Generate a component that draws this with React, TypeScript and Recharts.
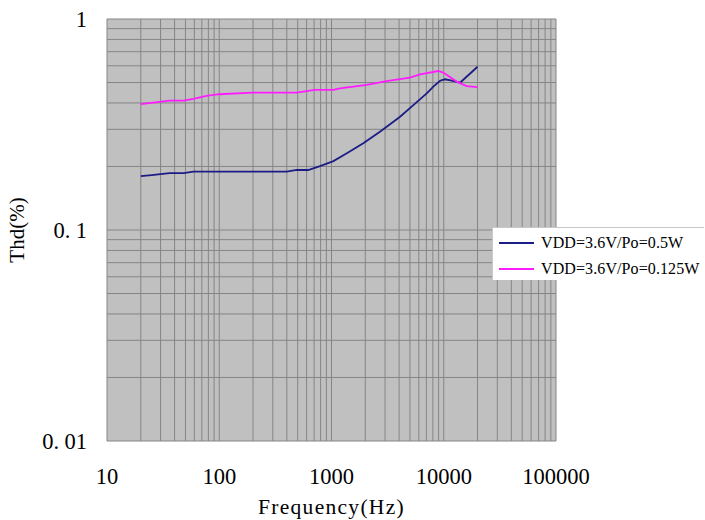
import React from 'react';
import { LineChart, Line, XAxis, YAxis, CartesianGrid, Legend } from 'recharts';

const blueFreq = [20, 25, 30, 36, 48, 59, 80, 100, 150, 200, 300, 400, 490, 620, 790, 1040, 1370, 1920, 2700, 3560, 4080, 5360, 7050, 8080, 9270, 10260, 11770, 13970, 20000];
const blueThd = [0.180, 0.182, 0.184, 0.186, 0.186, 0.189, 0.189, 0.189, 0.189, 0.189, 0.189, 0.189, 0.1925, 0.1925, 0.201, 0.212, 0.231, 0.2575, 0.292, 0.326, 0.344, 0.391, 0.444, 0.478, 0.510, 0.518, 0.510, 0.499, 0.594];

const magFreq = [20, 36, 48, 59, 77, 100, 200, 490, 710, 1040, 1190, 2060, 3090, 5000, 6140, 8940, 9900, 13030, 16000, 20000];
const magThd = [0.395, 0.41, 0.41, 0.418, 0.432, 0.440, 0.448, 0.448, 0.461, 0.461, 0.469, 0.487, 0.508, 0.527, 0.547, 0.567, 0.557, 0.505, 0.481, 0.475];

const xTicks = [10, 100, 1000, 10000, 100000];
const xTickLabels = ['10', '100', '1000', '10000', '100000'];
const yTicks = [0.01, 0.1, 1];
const yTickLabels = ['0.01', '0.1', '1'];

const seriesNames = ['VDD=3.6V/Po=0.5W', 'VDD=3.6V/Po=0.125W'];

const xGrid: number[] = [];
for (let d = 10; d < 100000; d *= 10) for (let m = 1; m < 10; m++) xGrid.push(d * m);
xGrid.push(100000);
const yGrid: number[] = [];
for (let d = 0.01; d < 0.99; d *= 10) for (let m = 1; m < 10; m++) yGrid.push(d * m);
yGrid.push(1);

const blueData = blueFreq.map((f, i) => ({ f, v: blueThd[i] }));
const magData = magFreq.map((f, i) => ({ f, v: magThd[i] }));

const FONT = '"Liberation Serif", "DejaVu Serif", serif';

// Render "0.x" labels with a wider gap after the period (as in the original monospaced font)
const spaced = (s: string) => {
  const k = s.indexOf('.');
  if (k < 0) return s;
  return [
    <tspan key="a">{s.slice(0, k + 1)}</tspan>,
    <tspan key="b" dx={5.5}>{s.slice(k + 1)}</tspan>,
  ];
};

const XTick = (p: any) => {
  const i = xTicks.indexOf(p.payload.value);
  return (
    <text x={p.x} y={p.y + 35} textAnchor="middle" dominantBaseline="central" fontFamily={FONT} fontSize={22.5} fill="#000">
      {xTickLabels[i]}
    </text>
  );
};

const YTick = (p: any) => {
  const i = yTicks.indexOf(p.payload.value);
  return (
    <text x={p.x - 20} y={p.y} textAnchor="end" dominantBaseline="central" fontFamily={FONT} fontSize={22.5} fill="#000">
      {spaced(yTickLabels[i])}
    </text>
  );
};

const LegendContent = (props: any) => {
  const payload = [...(props.payload || [])].sort(
    (a: any, b: any) => seriesNames.indexOf(a.value) - seriesNames.indexOf(b.value)
  );
  return (
    <div style={{ width: 212, height: 53, background: '#fff', borderLeft: '1px solid #c8c8c8', borderTop: '1px solid #c8c8c8', boxSizing: 'border-box', paddingLeft: 6, paddingTop: 2, textAlign: 'left', overflow: 'visible' }}>
      {payload.map((e: any, i: number) => (
        <div key={i} style={{ display: 'flex', alignItems: 'center', justifyContent: 'flex-start', height: 26, width: 240 }}>
          <div style={{ width: 35, minWidth: 35, flexShrink: 0, height: 2, background: e.color, marginRight: 7 }} />
          <span style={{ fontFamily: FONT, fontSize: 16, letterSpacing: 0.1, color: '#000', whiteSpace: 'nowrap', flexShrink: 0 }}>{e.value}</span>
        </div>
      ))}
    </div>
  );
};

export default function App() {
  return (
    <div style={{ position: 'absolute', left: 0, top: 0, width: 705, height: 520, background: '#fff' }}>
      <LineChart width={705} height={520} margin={{ top: 19, right: 149, bottom: 19, left: 0 }}>
        <CartesianGrid
          fill="#c0c0c0"
          stroke="#858585"
          strokeWidth={1}
          horizontalValues={yGrid}
          verticalValues={xGrid}
        />
        <XAxis
          dataKey="f"
          type="number"
          scale="log"
          domain={[10, 100000]}
          ticks={xTicks}
          interval={0}
          allowDataOverflow
          height={60}
          axisLine={false}
          tickLine={false}
          tickSize={0}
          tickMargin={0}
          tick={<XTick />}
          label={{ value: 'Frequency(Hz)', position: 'insideBottom', offset: -13, style: { fontFamily: FONT, fontSize: 21.5, letterSpacing: 1.3, fill: '#000' } }}
        />
        <YAxis
          type="number"
          scale="log"
          domain={[0.01, 1]}
          ticks={yTicks}
          interval={0}
          allowDataOverflow
          width={107}
          axisLine={false}
          tickLine={false}
          tickSize={0}
          tickMargin={0}
          tick={<YTick />}
          label={{ value: 'Thd(%)', angle: -90, position: 'insideLeft', offset: 17, style: { fontFamily: FONT, fontSize: 21, fill: '#000', textAnchor: 'middle' } }}
        />
        <Legend
          layout="vertical"
          align="center"
          verticalAlign="middle"
          wrapperStyle={{ left: 492, top: 227, width: 212, height: 53 }}
          content={<LegendContent />}
        />
        <Line data={blueData} dataKey="v" name={seriesNames[0]} stroke="#1c1c86" strokeWidth={1.8} dot={false} isAnimationActive={false} type="linear" />
        <Line data={magData} dataKey="v" name={seriesNames[1]} stroke="#ff1cff" strokeWidth={1.8} dot={false} isAnimationActive={false} type="linear" />
      </LineChart>
    </div>
  );
}
